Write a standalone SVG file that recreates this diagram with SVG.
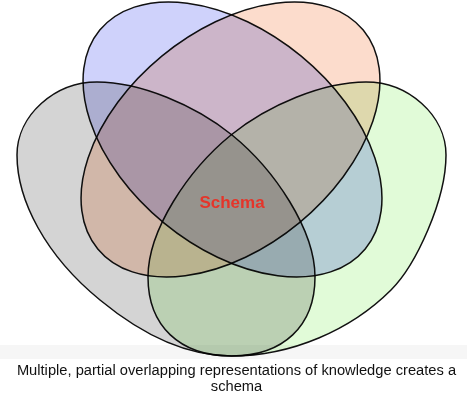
<svg xmlns="http://www.w3.org/2000/svg" width="474" height="405" viewBox="0 0 474 405">
  <style>
    .set { stroke: #111; stroke-width: 1.5; mix-blend-mode: multiply; }
    .caption { font-family: "Liberation Sans", Arial, sans-serif; font-size: 14.7px; fill: #111; text-anchor: middle; }
    .label { font-family: "Liberation Sans", Arial, sans-serif; font-size: 17px; font-weight: bold; fill: #e5352a; text-anchor: middle; }
  </style>
  <rect x="0" y="0" width="474" height="405" fill="#ffffff"/>
  <rect x="0" y="345" width="467" height="14" fill="#f6f6f6"/>
  <g id="sets">
    <g id="gray-set">
      <path class="set" fill="#d4d4d4" d="M231.5,356 C283.3,356 315,326 315,277 C315,230 275,170 232,135 C195,105 140,82 97,82 C55,82 17,115 17,155 C17,200 45,255 100,300 C140,333 185,356 231.5,356 Z"/>
    </g>
    <g id="green-set">
      <path class="set" fill="#e1fbd8" d="M231.5,356 C291.5,356 351,330 391,290 C416,265 446,200 446,155 C446,115 408,82 366,82 C323,82 268,105 231,135 C188,170 148,230 148,277 C148,326 179.7,356 231.5,356 Z"/>
    </g>
    <g id="blue-set">
      <ellipse class="set" fill="#cfd2fb" cx="232.5" cy="139.5" rx="172" ry="108" transform="rotate(39.5 232.5 139.5)"/>
    </g>
    <g id="orange-set">
      <ellipse class="set" fill="#fcdccc" cx="230.5" cy="139.5" rx="172" ry="108" transform="rotate(-39.5 230.5 139.5)"/>
    </g>
  </g>
  <g id="schema">
    <text class="label" x="232" y="208">Schema</text>
  </g>
  <g id="caption">
    <text class="caption" x="236.5" y="374.5">Multiple, partial overlapping representations of knowledge creates a</text>
    <text class="caption" x="236.5" y="390.5">schema</text>
  </g>
</svg>
